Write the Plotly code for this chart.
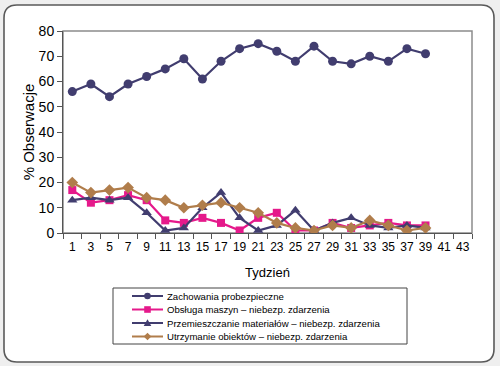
import plotly.graph_objects as go

weeks = [1, 3, 5, 7, 9, 11, 13, 15, 17, 19, 21, 23, 25, 27, 29, 31, 33, 35, 37, 39]
zachowania = [56, 59, 54, 59, 62, 65, 69, 61, 68, 73, 75, 72, 68, 74, 68, 67, 70, 68, 73, 71]
obsluga = [17, 12, 13, 15, 13, 5, 4, 6, 4, 1, 6, 8, 1, 1, 4, 2, 3, 4, 3, 3]
przemieszczanie = [13, 14, 13, 14, 8, 1, 2, 10, 16, 6, 1, 3, 9, 1, 4, 6, 3, 2, 3, 2]
utrzymanie = [20, 16, 17, 18, 14, 13, 10, 11, 12, 10, 8, 4, 2, 1, 3, 2, 5, 3, 1, 2]
x_ticks = list(range(1, 44, 2))
names = ["Zachowania probezpieczne",
         "Obsługa maszyn – niebezp. zdarzenia",
         "Przemieszczanie materiałów – niebezp. zdarzenia",
         "Utrzymanie obiektów – niebezp. zdarzenia"]

NAVY = "#413d6f"
MAGENTA = "#e5198b"
BROWN = "#b07d4b"
FONT = "Liberation Sans, Arial, sans-serif"

series = [
    (names[0], zachowania, NAVY, "circle", 9),
    (names[1], obsluga, MAGENTA, "square", 8),
    (names[2], przemieszczanie, NAVY, "triangle-up", 9),
    (names[3], utrzymanie, BROWN, "diamond", 9),
]

fig = go.Figure()
for name, vals, col, sym, size in series:
    fig.add_trace(go.Scatter(x=weeks, y=vals, name=name, mode="lines+markers",
                             line=dict(color=col, width=2.2),
                             marker=dict(symbol=sym, size=size, color=col),
                             showlegend=False))

# pixel -> paper helpers for the decorative frame and legend
L, R, T, B = 63, 472, 31, 233
def px(x):
    return (x - L) / (R - L)
def py(y):
    return (B - y) / (B - T)

def rounded(x0, y0, x1, y1, r):
    return (f"M {px(x0 + r)},{py(y0)} L {px(x1 - r)},{py(y0)} "
            f"Q {px(x1)},{py(y0)} {px(x1)},{py(y0 + r)} "
            f"L {px(x1)},{py(y1 - r)} Q {px(x1)},{py(y1)} {px(x1 - r)},{py(y1)} "
            f"L {px(x0 + r)},{py(y1)} Q {px(x0)},{py(y1)} {px(x0)},{py(y1 - r)} "
            f"L {px(x0)},{py(y0 + r)} Q {px(x0)},{py(y0)} {px(x0 + r)},{py(y0)} Z")

def poly(pts):
    return "M " + " L ".join(f"{px(a)},{py(b)}" for a, b in pts) + " Z"

fig.add_shape(type="path", xref="paper", yref="paper", path=rounded(4, 5, 494, 362, 13),
              line=dict(color="#5a5a5a", width=1.6), fillcolor="white", layer="below")
fig.add_shape(type="rect", xref="paper", yref="paper", x0=0, y0=0, x1=1, y1=1,
              line=dict(color="#8c8c8c", width=1.5), layer="below")

# legend (drawn as a box with samples and real text)
fig.add_shape(type="rect", xref="paper", yref="paper",
              x0=px(113), x1=px(407), y0=py(288), y1=py(344),
              line=dict(color="#444444", width=1), fillcolor="white", layer="above")
rows = [296, 309.5, 323, 336.5]
lx0, lx1, mx = 132, 163, 147.5
m = 3.3
for (name, vals, col, sym, size), yy in zip(series, rows):
    fig.add_shape(type="line", xref="paper", yref="paper",
                  x0=px(lx0), x1=px(lx1), y0=py(yy), y1=py(yy),
                  line=dict(color=col, width=2), layer="above")
    if sym == "circle":
        fig.add_shape(type="circle", xref="paper", yref="paper",
                      x0=px(mx - m), x1=px(mx + m), y0=py(yy - m), y1=py(yy + m),
                      line=dict(color=col, width=0), fillcolor=col, layer="above")
    elif sym == "square":
        fig.add_shape(type="rect", xref="paper", yref="paper",
                      x0=px(mx - m), x1=px(mx + m), y0=py(yy - m), y1=py(yy + m),
                      line=dict(color=col, width=0), fillcolor=col, layer="above")
    elif sym == "triangle-up":
        fig.add_shape(type="path", xref="paper", yref="paper",
                      path=poly([(mx - 3.8, yy + 3), (mx + 3.8, yy + 3), (mx, yy - 3.8)]),
                      line=dict(color=col, width=0), fillcolor=col, layer="above")
    else:
        fig.add_shape(type="path", xref="paper", yref="paper",
                      path=poly([(mx, yy - 3.8), (mx + 3.8, yy), (mx, yy + 3.8), (mx - 3.8, yy)]),
                      line=dict(color=col, width=0), fillcolor=col, layer="above")
    fig.add_annotation(xref="paper", yref="paper", x=px(165), y=py(yy),
                       xanchor="left", yanchor="middle", text=name, showarrow=False,
                       font=dict(size=9.6, family=FONT, color="black"))

fig.update_layout(
    width=500, height=366,
    margin=dict(l=L, r=500 - R, t=T, b=366 - B, autoexpand=False),
    paper_bgcolor="#efefef",
    plot_bgcolor="rgba(0,0,0,0)",
    font=dict(family=FONT, color="black"),
    showlegend=False,
)
fig.update_xaxes(range=[0, 44], tickvals=x_ticks, ticktext=[str(v) for v in x_ticks],
                 ticks="", showgrid=False, zeroline=False,
                 showline=True, linecolor="#555555", linewidth=1,
                 tickfont=dict(size=12), ticklabelstandoff=3,
                 minor=dict(tickvals=list(range(0, 45, 2)), ticks="outside",
                            ticklen=5, tickcolor="#555555", showgrid=False),
                 title=dict(text="Tydzień", font=dict(size=13), standoff=14))
fig.update_yaxes(range=[0, 80], tickvals=list(range(0, 81, 10)), ticks="outside",
                 ticklen=5, tickcolor="#555555", showgrid=False, zeroline=False,
                 showline=True, linecolor="#555555", linewidth=1,
                 tickfont=dict(size=14),
                 title=dict(text="% Obserwacje", font=dict(size=15), standoff=0))

fig.write_html("out.html",
               config={"displayModeBar": False},
               post_script="document.body.style.margin='0px';"
                           "document.body.style.background='#efefef';")
